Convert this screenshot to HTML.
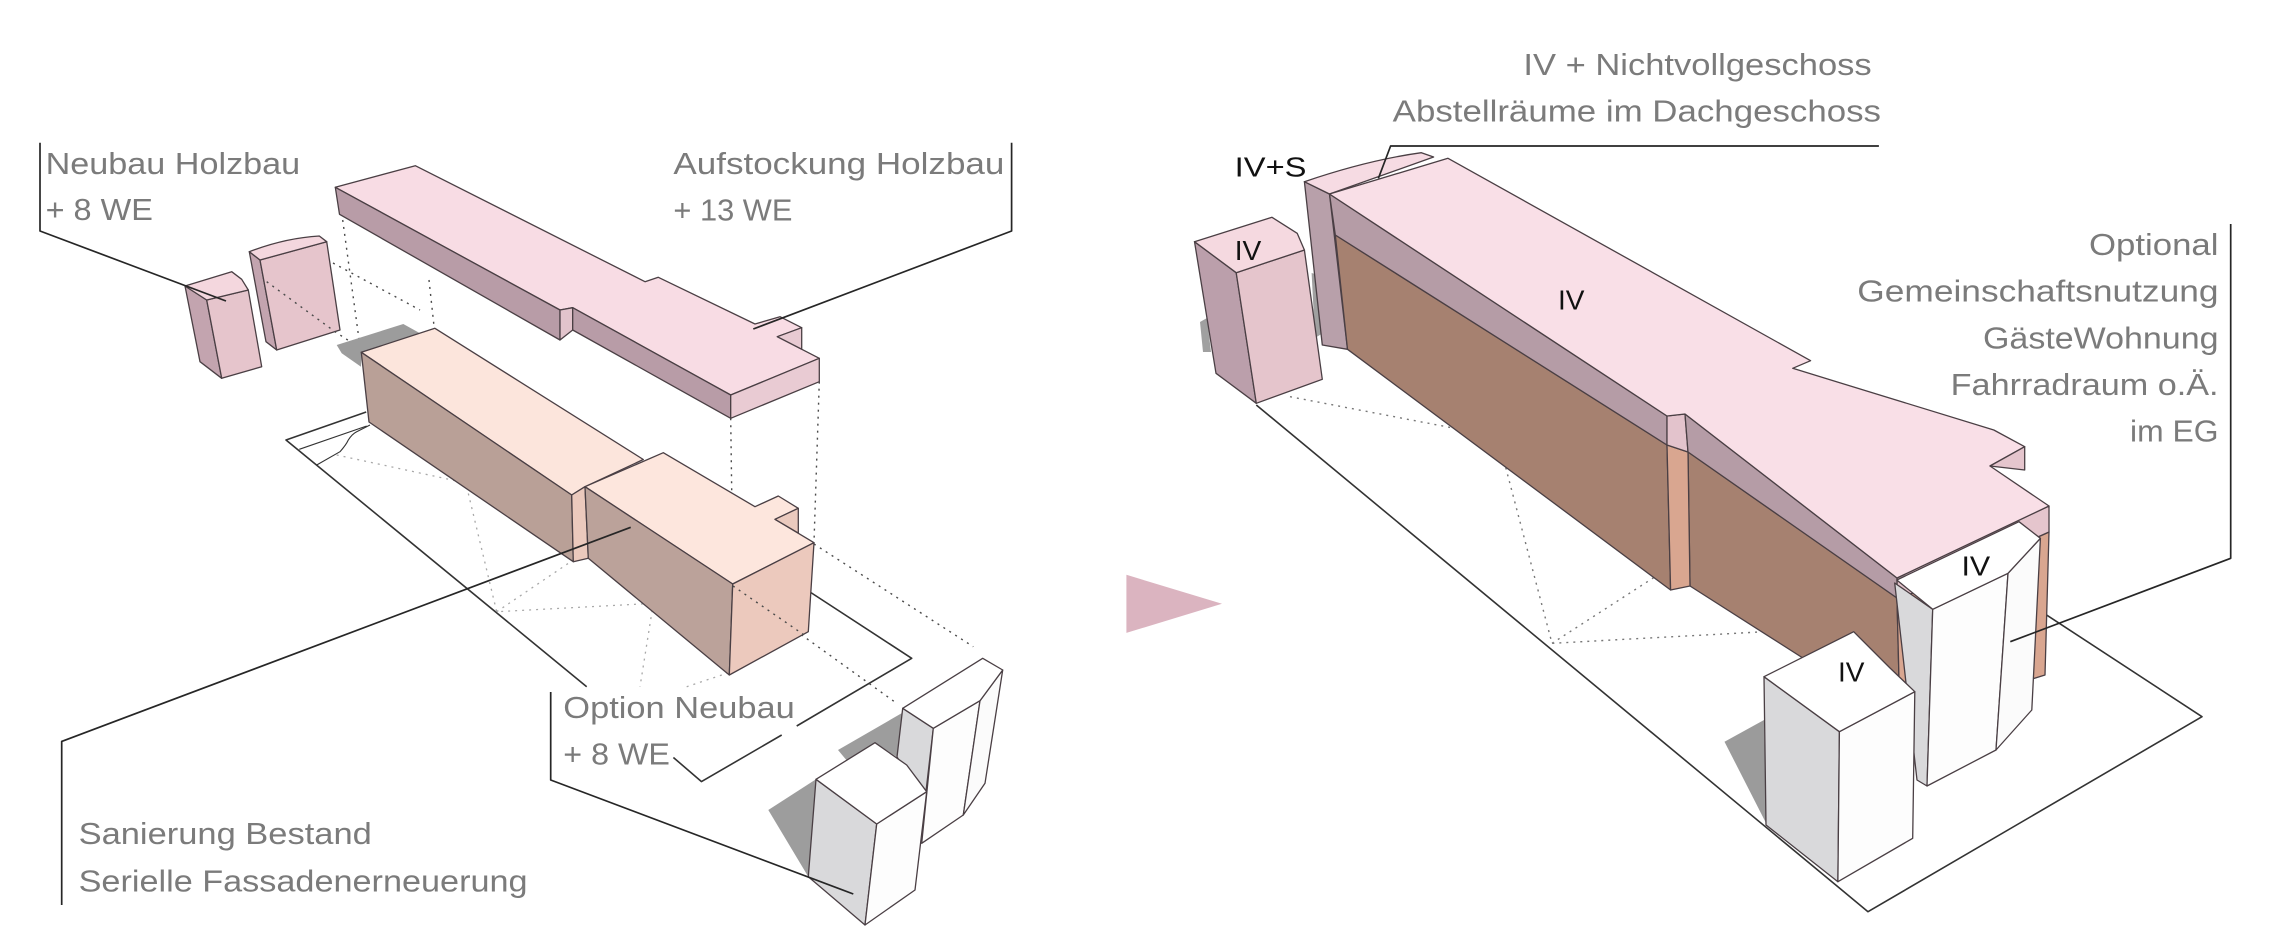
<!DOCTYPE html>
<html>
<head>
<meta charset="utf-8">
<style>
html,body{margin:0;padding:0;background:#fff;}
svg{display:block;}
.lbl{font-family:"Liberation Sans","DejaVu Sans",sans-serif;font-size:31px;fill:#7b7b7b;}
.blk{font-family:"Liberation Sans","DejaVu Sans",sans-serif;font-size:28px;fill:#111;}
.ed{stroke:#4a3f44;stroke-width:1.3;stroke-linejoin:round;}
.ln{stroke:#262626;stroke-width:1.7;fill:none;stroke-linejoin:round;}
.pl{stroke:#333;stroke-width:1.6;fill:none;stroke-linejoin:round;}
.dk{stroke:#4a4a4a;stroke-width:1.4;fill:none;stroke-dasharray:2 5;}
.lt{stroke:#a8a8a8;stroke-width:1.3;fill:none;stroke-dasharray:2 5;}
</style>
</head>
<body>
<svg width="2276" height="939" viewBox="0 0 2276 939" xmlns="http://www.w3.org/2000/svg">
<rect width="2276" height="939" fill="#ffffff"/>

<!-- ================= LEFT DIAGRAM ================= -->
<!-- plot outline -->
<polyline class="pl" points="366.2,412 286,440 586.7,686.7"/>
<polyline class="pl" style="stroke-width:1.1" points="299.3,449.3 366.7,426"/>
<path class="pl" style="stroke-width:1.1" d="M316.7,465 L340,451.7 Q346,445 348.3,440 Q352,434 356.7,431.7 L370,425"/>
<polyline class="pl" points="810,592 911.7,658.3 796.7,726"/>
<polyline class="pl" points="673.4,757.5 701.5,781.6 781.7,735"/>

<!-- light dotted plot lines -->
<polyline class="lt" points="336.7,455 460,481.7"/>
<polyline class="lt" points="466.7,486.7 496.7,611.7 653.3,603.3"/>
<polyline class="lt" points="496.7,611.7 573.3,560"/>
<polyline class="lt" points="653.3,603.3 640,686.7"/>
<polyline class="lt" points="686.7,686.7 736.7,670"/>

<!-- dark dotted projection lines -->
<polyline class="dk" points="342.7,220 360,346.7"/>
<polyline class="dk" points="429,280 434,326"/>
<polyline class="dk" points="266.7,281.7 335,331.7 360,348"/>
<polyline class="dk" points="333,263 420,310"/>
<polyline class="dk" points="730.7,418.3 733,584"/>
<polyline class="dk" points="819.3,381.7 814,542"/>
<polyline class="dk" points="733,585.6 896.7,703.3"/>
<polyline class="dk" points="814,544 973.3,646.7"/>

<!-- shadow of existing building -->
<polygon fill="#9c9c9c" points="336.7,345 403.3,324 420,333.3 361.7,353.3 361,366.7 341.7,353.3"/>

<!-- existing building -->
<polygon class="ed" fill="#fce5dc" points="361.3,352.3 434.9,328.3 643.3,459.5 585,486.7 571.7,495"/>
<polygon class="ed" fill="#b9a097" points="361.3,352.3 571.7,495 573.3,561.7 369,422"/>
<polygon class="ed" fill="#ebc9bd" points="571.7,495 585,486.7 588.3,558.3 573.3,561.7"/>

<!-- option box -->
<polygon class="ed" fill="#fde6dd" points="585,486.7 663.3,452.7 755,506.7 778.3,496 798.3,508.3 775,519.3 814,542.7 732.7,584"/>
<polygon class="ed" fill="#ebcabe" points="798.3,508.3 798.3,533 775,519.3"/>
<polygon class="ed" fill="#bba29a" points="585,486.7 732.7,584 729.3,675 588.3,558.3"/>
<polygon class="ed" fill="#ecc9bd" points="732.7,584 814,542.7 808.3,631.7 729.3,675"/>
<polyline class="dk" points="733,586 806.7,636.7"/>

<!-- tower shadows -->
<polygon fill="#9d9d9d" points="768.3,810 816,779.3 808.3,876.7"/>
<polygon fill="#9d9d9d" points="838,750 902,713 897,757 875,743 848,762"/>

<!-- tower A (left diagram) -->
<polygon class="ed" fill="#d9d9db" points="902.7,708.3 933.3,728.3 925,800 897,757"/>
<polygon class="ed" fill="#fdfdfd" points="933.3,728.3 980,700.7 963.3,815 921.7,843.3"/>
<polygon class="ed" fill="#fbfbfb" points="980,700.7 1002.7,670 985,783.3 963.3,815"/>
<polygon class="ed" fill="#ffffff" points="902.7,708.3 982.7,658.3 1002.7,670 980,700.7 933.3,728.3"/>

<!-- tower B (left diagram) -->
<polygon class="ed" fill="#d9d9db" points="816,779.3 876.7,824 865,925 808.3,876.7"/>
<polygon class="ed" fill="#fdfdfd" points="876.7,824 926.7,791.7 915,890 865,925"/>
<polygon class="ed" fill="#ffffff" points="816,779.3 875,742.7 906.7,765 926.7,791.7 876.7,824"/>

<!-- small Neubau buildings -->
<polygon class="ed" fill="#c3a4af" points="185,286 206.7,300 221.7,378.3 200,361.7"/>
<polygon class="ed" fill="#e6c5cc" points="206.7,300 248.3,290 261.7,366.7 221.7,378.3"/>
<polygon class="ed" fill="#f4d7de" points="185,286 231.7,271.7 241.7,279.3 248.3,290 206.7,300"/>

<polygon class="ed" fill="#c3a4af" points="249.3,251.7 260,260 276.7,350 266,341.7"/>
<polygon class="ed" fill="#e6c5cc" points="260,260 326.7,241.7 340,330 276.7,350"/>
<path class="ed" fill="#f4d7de" d="M249.3,251.7 Q285,238 319.3,236 L326.7,241.7 L260,260 Z"/>
<polyline class="dk" points="266.7,281.7 335,331.7"/>

<!-- floating roof (Aufstockung) -->
<polygon class="ed" fill="#f8dce4" points="335.3,187.3 415.3,165.7 645,281.7 658.3,277.3 755,324 780,316.7 801.7,327.7 777.3,336.7 819.3,358.3 730.7,395 572.7,307.7 560,310"/>
<polygon class="ed" fill="#e8cad2" points="801.7,327.7 801.7,349.2 777.3,336.7"/>
<polygon class="ed" fill="#b89ca7" points="335.3,187.3 560,310 560,340 339.5,214.3"/>
<polygon class="ed" fill="#e2c4cc" points="560,310 572.7,307.7 572.7,330 560,340"/>
<polygon class="ed" fill="#b89ca7" points="572.7,307.7 730.7,395 730.7,418.3 572.7,330"/>
<polygon class="ed" fill="#e9cbd3" points="730.7,395 819.3,358.3 819.3,381.7 730.7,418.3"/>

<!-- connectors left -->
<polyline class="ln" points="40,142.7 40,231 226,301"/>
<polyline class="ln" points="1011.6,142.7 1011.6,231 753.3,329"/>
<polyline class="ln" points="61.7,905 61.7,741.4 630.7,527.3"/>
<polyline class="ln" points="550.7,692 550.7,780 853.3,894"/>

<!-- labels left -->
<text class="lbl" x="45.6" y="174" textLength="254.6" lengthAdjust="spacingAndGlyphs">Neubau Holzbau</text>
<text class="lbl" x="45.6" y="220" textLength="107.3" lengthAdjust="spacingAndGlyphs">+ 8 WE</text>
<text class="lbl" x="673.4" y="174" textLength="331" lengthAdjust="spacingAndGlyphs">Aufstockung Holzbau</text>
<text class="lbl" x="673.4" y="220.7" textLength="119" lengthAdjust="spacingAndGlyphs">+ 13 WE</text>
<text class="lbl" x="563.3" y="718" textLength="231.5" lengthAdjust="spacingAndGlyphs">Option Neubau</text>
<text class="lbl" x="563.3" y="764.4" textLength="106.6" lengthAdjust="spacingAndGlyphs">+ 8 WE</text>
<text class="lbl" x="78.6" y="844" textLength="293.2" lengthAdjust="spacingAndGlyphs">Sanierung Bestand</text>
<text class="lbl" x="78.6" y="891.6" textLength="449" lengthAdjust="spacingAndGlyphs">Serielle Fassadenerneuerung</text>

<!-- ================= ARROW ================= -->
<polygon fill="#dbb4c0" points="1126.4,574.8 1222,603.8 1126.4,632.9"/>

<!-- ================= RIGHT DIAGRAM ================= -->
<polyline class="pl" points="1256.3,405 1868,911.7 2202,716.7 2044,613.3"/>

<!-- dotted -->
<polyline class="dk" style="stroke:#777" points="1290,396.7 1500,437 1505.5,466.7 1552,643.3 1796,630"/>
<polyline class="dk" style="stroke:#777" points="1552,643.3 1681,560"/>
<polyline class="dk" style="stroke:#777" points="1796,630 1796,650"/>

<!-- shadows -->
<polygon fill="#a0a0a0" points="1200,322 1207,318 1211,352 1203,352"/>
<polygon fill="#a0a0a0" points="1311.6,273 1322,276 1323,333 1315,338"/>
<polygon fill="#9b9b9b" points="1724.5,741.7 1764,720 1766,823"/>

<!-- small IV tower -->
<polygon class="ed" fill="#bb9fab" points="1194.5,241.7 1236.2,272.7 1256.3,403.3 1216,373.3"/>
<polygon class="ed" fill="#e5c5cc" points="1236.2,272.7 1304.4,250 1322.3,379.3 1256.3,403.3"/>
<polygon class="ed" fill="#f5d9e0" points="1194.5,241.7 1272,217.3 1297.2,233.3 1304.4,250 1236.2,272.7"/>

<!-- IV+S slab -->
<polygon class="ed" fill="#b8a0aa" points="1304.4,181.7 1329.5,194 1347.5,349.3 1322.3,345"/>
<path class="ed" fill="#f6dbe3" d="M1304.4,181.7 Q1368,160 1421.4,152.7 L1433.6,157 L1329.5,194 Z"/>

<!-- main roof & facade -->
<polygon class="ed" fill="#a68170" points="1335.3,235 1667,445 1670.6,590 1347.5,349.3"/>
<polygon class="ed" fill="#a68170" points="1688,452 1897,598 1900,720 1690,586"/>
<polygon class="ed" fill="#d9a690" points="1667,445 1688,452 1690,586 1670.6,590"/>
<polygon class="ed" fill="#d9a690" points="1897,600 2049,532 2045,675 1900,720"/>
<polygon class="ed" fill="#e5c5cd" points="1897,578 2049,506 2049,532 1897,600"/>
<polygon class="ed" fill="#b59ca6" points="1329.5,194 1667,416 1667,445 1335.3,235"/>
<polygon class="ed" fill="#e3c3cc" points="1667,416 1685,414 1688,452 1667,445"/>
<polygon class="ed" fill="#b59ca6" points="1685,414 1897,578 1897,598 1688,452"/>
<polygon class="ed" fill="#f9dfe7" points="1329.5,194 1448,158.3 1810.6,360.7 1792.7,368.3 1993.8,430 2024.7,446.7 1990,466 2049,506 1897,578 1685,414 1667,416"/>
<polygon class="ed" fill="#e5c5cd" points="2024.7,446.7 2024.7,470 1990,466"/>

<!-- tower A (right) -->
<polygon class="ed" fill="#d9d9db" points="1894.7,583 1932.7,609.3 1927,786 1917,780"/>
<polygon class="ed" fill="#fdfdfd" points="1932.7,609.3 2008,573.3 1996,750 1927,786"/>
<polygon class="ed" fill="#fbfbfb" points="2008,573.3 2040.4,538.3 2031.8,710 1996,750"/>
<polygon class="ed" fill="#ffffff" points="1896.8,580 2019,521.7 2040.4,538.3 2008,573.3 1932.7,609.3"/>

<!-- tower B (right) -->
<polygon class="ed" fill="#d9d9db" points="1764,676.7 1839.4,731.7 1837.9,881.7 1766,825"/>
<polygon class="ed" fill="#fdfdfd" points="1839.4,731.7 1914.8,691.7 1912.7,838.3 1837.9,881.7"/>
<polygon class="ed" fill="#ffffff" points="1764,676.7 1853.7,631.7 1890,668 1914.8,691.7 1839.4,731.7"/>

<!-- connectors right -->
<polyline class="ln" points="1378.4,178.3 1390.6,146 1878.9,146"/>
<polyline class="ln" points="2230.7,224 2230.7,558.3 2010.3,641.7"/>

<!-- labels right -->
<text class="lbl" x="1523.4" y="75" textLength="348.3" lengthAdjust="spacingAndGlyphs">IV + Nichtvollgeschoss</text>
<text class="lbl" x="1392.7" y="121.7" textLength="488.3" lengthAdjust="spacingAndGlyphs">Abstellräume im Dachgeschoss</text>
<text class="lbl" x="2089" y="255" textLength="129.5" lengthAdjust="spacingAndGlyphs">Optional</text>
<text class="lbl" x="1857.3" y="301.7" textLength="361.2" lengthAdjust="spacingAndGlyphs">Gemeinschaftsnutzung</text>
<text class="lbl" x="1983" y="348.3" textLength="235.5" lengthAdjust="spacingAndGlyphs">GästeWohnung</text>
<text class="lbl" x="1950.7" y="395" textLength="267.8" lengthAdjust="spacingAndGlyphs">Fahrradraum o.Ä.</text>
<text class="lbl" x="2130" y="441.7" textLength="88.5" lengthAdjust="spacingAndGlyphs">im EG</text>

<text class="blk" x="1234.7" y="176.7" textLength="71.8" lengthAdjust="spacingAndGlyphs">IV+S</text>
<text class="blk" x="1234.7" y="260" textLength="26.6" lengthAdjust="spacingAndGlyphs">IV</text>
<text class="blk" x="1558" y="309.3" textLength="26.5" lengthAdjust="spacingAndGlyphs">IV</text>
<text class="blk" x="1961.5" y="575.3" textLength="28.7" lengthAdjust="spacingAndGlyphs">IV</text>
<text class="blk" x="1838" y="681.7" textLength="26.5" lengthAdjust="spacingAndGlyphs">IV</text>
</svg>
</body>
</html>
